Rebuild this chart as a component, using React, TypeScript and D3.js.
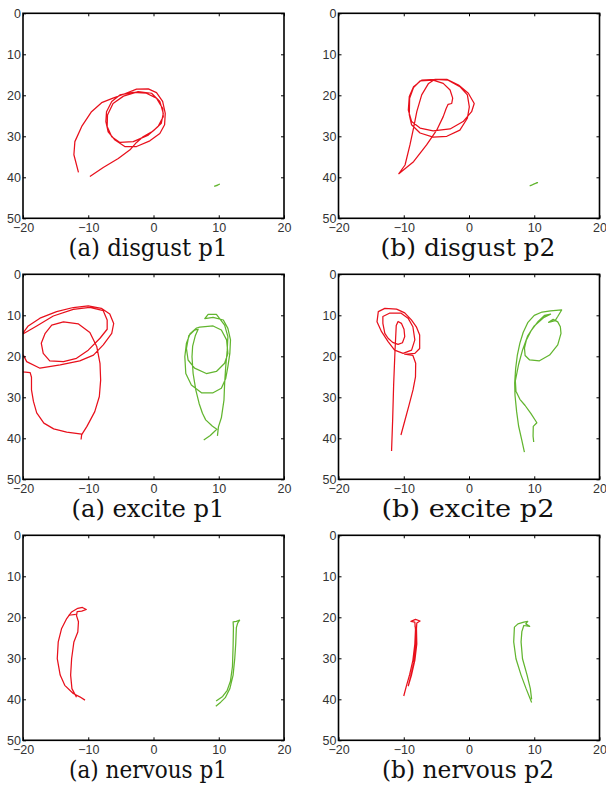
import React, { useEffect, useRef } from "react";
import * as d3 from "d3";

// axis ticks and panel captions
const xTicks = [-20, -10, 0, 10, 20];
const yTicks = [0, 10, 20, 30, 40, 50];
const captions = [
  "(a) disgust p1",
  "(b) disgust p2",
  "(a) excite p1",
  "(b) excite p2",
  "(a) nervous p1",
  "(b) nervous p2",
];

// trajectories, [x, y] in plot units (y grows downward)
const disgustP1Red = [
  [-11.5, 38.8], [-12.2, 34.5], [-12.05, 31.3], [-11.0, 27.6], [-9.5, 24.0], [-7.95, 21.8],
  [-6.2, 20.7], [-4.6, 19.75], [-2.6, 18.5], [-0.8, 18.45], [0.46, 19.35], [1.4, 21.5],
  [1.8, 24.4], [1.7, 27.2], [0.97, 29.3], [-0.56, 31.1], [-2.6, 32.5], [-4.4, 32.5],
  [-5.9, 30.9], [-6.95, 28.9], [-7.3, 26.4], [-7.2, 24.0], [-6.4, 21.5], [-5.15, 19.9],
  [-3.1, 19.3], [-1.1, 19.5], [0.46, 20.7], [1.4, 23.2], [1.5, 25.2], [0.7, 27.6],
  [-0.8, 29.7], [-3.1, 31.3], [-5.15, 31.5], [-6.4, 30.1], [-7.1, 27.6], [-7.05, 24.8],
  [-6.2, 22.0], [-4.6, 20.2], [-2.35, 19.1], [-0.3, 19.5], [0.97, 21.5], [1.5, 24.4],
  [1.2, 26.8], [-0.06, 28.7], [-1.6, 30.1], [-2.6, 31.5], [-3.6, 33.3], [-5.4, 35.4],
  [-7.7, 37.6], [-9.75, 39.8],
];
const disgustP1Green = [[9.3, 42.2], [9.7, 41.95], [10.1, 41.7], [9.8, 41.95], [9.4, 42.15]];

const disgustP2Red = [
  [-10.8, 39.2], [-9.8, 37.0], [-9.05, 32.1], [-8.5, 28.0], [-8.0, 24.0], [-7.25, 19.9],
  [-6.2, 17.1], [-5.2, 16.1], [-3.4, 16.1], [-1.6, 17.5], [-0.1, 19.5], [0.8, 22.0],
  [0.4, 24.0], [-0.9, 26.4], [-2.9, 28.2], [-5.5, 28.7], [-7.5, 28.0], [-8.8, 26.4],
  [-9.3, 23.6], [-9.15, 20.3], [-8.5, 17.9], [-7.25, 16.3], [-5.2, 16.1], [-3.2, 16.3],
  [-1.4, 17.9], [-0.25, 19.9], [0.05, 22.8], [-0.25, 25.6], [-1.4, 28.5], [-3.4, 30.0],
  [-5.5, 30.2], [-7.5, 29.2], [-8.8, 27.2], [-9.15, 24.8], [-9.1, 20.7], [-8.5, 18.1],
  [-7.5, 16.5], [-5.5, 16.3], [-3.95, 17.1], [-2.9, 18.7], [-2.5, 20.7], [-2.65, 22.0],
  [-3.2, 22.2], [-3.5, 23.2], [-3.95, 25.2], [-4.95, 28.5], [-6.5, 32.1], [-8.5, 36.2],
  [-10.8, 39.2],
];
const disgustP2Green = [[9.3, 42.1], [9.9, 41.7], [10.5, 41.3], [10.0, 41.6], [9.5, 42.0]];

const exciteP1Red = [
  [-11.1, 40.3], [-11.0, 39.0], [-13.3, 38.5], [-15.3, 37.7], [-16.8, 36.3], [-17.9, 33.8],
  [-18.4, 31.0], [-18.7, 28.2], [-18.7, 25.1], [-18.9, 24.0], [-20.0, 23.8], [-20.8, 22.5],
  [-20.4, 20.0], [-19.95, 19.7], [-19.44, 21.3], [-17.4, 22.9], [-14.3, 22.1], [-11.3, 21.1],
  [-9.2, 19.7], [-7.7, 17.2], [-6.4, 14.4], [-6.1, 12.0], [-6.7, 9.7], [-8.0, 8.3],
  [-10.0, 7.7], [-12.3, 8.1], [-14.85, 9.1], [-17.4, 10.7], [-19.2, 12.6], [-19.95, 14.2],
  [-20.6, 14.6], [-19.95, 14.5], [-17.9, 12.6], [-15.36, 10.17], [-12.3, 8.55], [-9.75, 8.06],
  [-7.7, 8.87], [-7.1, 11.15], [-7.1, 13.4], [-8.2, 15.6], [-10.0, 18.5], [-11.8, 20.5],
  [-13.8, 21.3], [-15.9, 21.1], [-16.9, 19.3], [-17.2, 16.8], [-16.6, 14.4], [-15.6, 12.4],
  [-13.8, 11.6], [-11.5, 12.1], [-9.75, 14.2], [-8.7, 17.6], [-8.2, 21.7], [-8.1, 25.8],
  [-8.3, 29.8], [-9.0, 33.5], [-10.2, 37.1], [-11.0, 39.1],
];
const exciteP1Green = [
  [9.8, 39.4], [9.95, 37.2], [10.4, 35.0], [10.8, 30.7], [10.9, 26.6], [11.07, 22.5],
  [11.3, 18.5], [11.4, 15.2], [10.9, 12.4], [9.64, 9.76], [8.37, 9.76], [7.86, 10.8],
  [9.13, 10.5], [10.7, 11.15], [11.4, 13.2], [11.8, 16.0], [11.7, 19.3], [11.4, 22.5],
  [11.07, 25.4], [10.4, 27.8], [9.13, 28.9], [7.35, 28.9], [5.8, 27.0], [4.95, 24.2],
  [4.8, 20.1], [5.05, 16.8], [5.6, 14.5], [6.6, 13.1], [7.09, 12.9], [9.13, 12.6],
  [10.4, 13.6], [11.2, 16.0], [11.4, 19.3], [10.9, 21.7], [9.64, 23.7], [8.1, 24.2],
  [6.3, 22.9], [5.3, 20.9], [5.05, 18.1], [5.4, 15.0], [6.3, 13.6], [6.84, 13.4],
  [6.4, 15.0], [6.0, 17.5], [5.9, 20.1], [6.07, 24.2], [6.48, 28.2], [6.99, 31.5],
  [7.5, 33.9], [8.0, 35.5], [9.0, 37.0], [9.7, 37.8], [8.7, 39.3], [7.7, 40.4],
];

const exciteP2Red = [
  [-11.87, 43.1], [-11.7, 35.5], [-11.55, 27.0], [-11.35, 19.0], [-11.15, 12.5], [-10.87, 11.5],
  [-10.36, 11.96], [-9.96, 13.4], [-9.85, 15.2], [-10.2, 16.7], [-10.87, 17.1], [-11.7, 16.6],
  [-12.4, 15.6], [-12.9, 14.4], [-13.2, 11.96], [-13.2, 10.3], [-12.2, 9.5], [-10.4, 9.5],
  [-9.34, 10.7], [-8.6, 12.8], [-8.3, 16.0], [-8.8, 18.5], [-10.1, 19.3], [-11.4, 18.5],
  [-12.4, 16.4], [-13.4, 14.0], [-14.1, 11.6], [-13.9, 9.1], [-12.9, 8.3], [-11.1, 8.5],
  [-9.85, 9.4], [-8.83, 11.1], [-8.07, 12.8], [-7.56, 14.8], [-7.56, 18.1], [-8.3, 19.3],
  [-9.85, 19.5], [-8.6, 19.8], [-8.17, 21.7], [-8.2, 25.0], [-8.58, 28.2], [-9.19, 31.9],
  [-9.92, 36.2], [-10.43, 39.2],
];
const exciteP2Green = [
  [8.49, 43.4], [8.1, 40.5], [7.6, 37.0], [7.3, 33.5], [7.05, 29.5], [7.0, 26.5],
  [7.15, 23.0], [7.4, 19.8], [7.8, 16.8], [8.3, 14.2], [9.0, 11.8], [10.0, 10.0],
  [11.2, 9.2], [12.5, 8.9], [14.2, 8.7], [13.6, 10.3], [13.2, 11.3], [12.2, 11.7],
  [12.9, 11.0], [13.6, 11.6], [14.0, 12.8], [14.1, 14.4], [13.6, 17.2], [12.35, 19.7],
  [10.8, 21.1], [9.3, 20.9], [8.6, 19.8], [8.5, 18.0], [8.8, 16.0], [9.5, 13.8],
  [10.6, 11.5], [11.6, 10.0], [12.5, 9.7], [11.5, 10.5], [10.0, 12.6], [9.0, 15.0],
  [8.2, 18.5], [7.6, 22.0], [7.1, 26.0], [7.2, 28.5], [7.8, 30.5], [8.6, 32.0],
  [9.5, 34.0], [10.4, 36.2], [9.85, 37.1], [9.82, 39.5], [9.92, 40.9],
];

const nervousP1Red = [
  [-10.5, 40.2], [-11.3, 39.4], [-12.3, 38.6], [-13.6, 36.6], [-14.3, 34.1], [-14.75, 30.1],
  [-14.6, 26.0], [-14.1, 22.8], [-13.3, 20.3], [-12.55, 18.7], [-11.6, 17.8], [-10.9, 17.6],
  [-10.3, 18.1], [-11.0, 18.5], [-11.7, 18.6], [-11.8, 19.6], [-11.5, 21.1], [-11.6, 23.6],
  [-12.2, 26.0], [-12.55, 30.1], [-12.7, 34.1], [-12.5, 37.4], [-11.8, 39.5],
];
const nervousP1RedHook = [[-13.0, 19.5], [-11.9, 19.3]];
const nervousP1Green = [
  [9.6, 40.4], [10.6, 39.3], [11.3, 37.8], [11.8, 35.5], [12.1, 32.0], [12.2, 27.0],
  [12.25, 22.5], [12.2, 21.1], [12.7, 21.0], [13.2, 20.7], [12.9, 21.4], [12.7, 22.5],
  [12.6, 26.5], [12.45, 30.1], [12.2, 34.1], [11.7, 37.4], [11.0, 39.6], [10.3, 40.7],
  [9.55, 41.7],
];

const nervousP2Red = [
  [-10.0, 39.2], [-9.6, 36.8], [-9.1, 34.0], [-8.6, 30.5], [-8.3, 26.5], [-8.2, 23.0],
  [-8.3, 21.2], [-8.9, 21.0], [-8.2, 20.5], [-7.5, 20.9], [-8.0, 21.4], [-8.05, 22.8],
  [-8.0, 26.5], [-8.3, 30.5], [-8.8, 34.0], [-9.3, 36.7], [-8.95, 34.5], [-8.45, 31.0],
  [-8.15, 26.5], [-8.1, 23.2], [-8.3, 22.0],
];
const nervousP2Green = [
  [9.6, 40.8], [8.75, 37.4], [7.98, 34.1], [7.2, 30.1], [6.85, 26.0], [6.96, 22.4],
  [7.5, 21.6], [8.4, 21.2], [9.0, 21.0], [8.7, 21.6], [9.3, 22.2], [8.4, 22.0],
  [8.1, 23.5], [7.98, 26.0], [8.2, 30.1], [8.9, 34.1], [9.4, 37.4], [9.6, 40.0],
];

const panels = [
  { caption: captions[0], red: [disgustP1Red], green: [disgustP1Green] },
  { caption: captions[1], red: [disgustP2Red], green: [disgustP2Green] },
  { caption: captions[2], red: [exciteP1Red], green: [exciteP1Green] },
  { caption: captions[3], red: [exciteP2Red], green: [exciteP2Green] },
  { caption: captions[4], red: [nervousP1Red, nervousP1RedHook], green: [nervousP1Green] },
  { caption: captions[5], red: [nervousP2Red], green: [nervousP2Green] },
];

// layout
const W = 606;
const H = 791;
const plotW = 261;
const plotH = 205;
const colLeft = [23, 338.5];
const rowTop = [13.3, 274.3, 535.3];
const captionX = [148, 468];
const captionWidth = [159, 175, 153, 173, 158, 172];
const RED = "#e8101c";
const GREEN = "#62b52f";

export default function App() {
  const svgRef = useRef<SVGSVGElement>(null);

  useEffect(() => {
    const svg = d3.select(svgRef.current);
    svg.selectAll("*").remove();

    const x = d3.scaleLinear().domain([-20, 20]).range([0, plotW]);
    const y = d3.scaleLinear().domain([0, 50]).range([0, plotH]);
    const line = d3
      .line<number[]>()
      .x((d) => x(d[0]))
      .y((d) => y(d[1]));

    const styleAxis = (g, labels) => {
      g.select(".domain").remove();
      g.selectAll(".tick line").attr("stroke", "#000").attr("stroke-width", 1);
      if (labels) {
        g.selectAll("text")
          .attr("fill", "#333")
          .attr("font-family", "'Liberation Sans', Arial, sans-serif")
          .attr("font-size", 12.5);
      } else {
        g.selectAll("text").remove();
      }
    };

    panels.forEach((p, i) => {
      const col = i % 2;
      const row = Math.floor(i / 2);
      const g = svg
        .append("g")
        .attr("transform", `translate(${colLeft[col]},${rowTop[row]})`);

      const clipId = `clip-${i}`;
      g.append("clipPath")
        .attr("id", clipId)
        .append("rect")
        .attr("width", plotW)
        .attr("height", plotH);

      const marks = g.append("g").attr("clip-path", `url(#${clipId})`);
      marks
        .selectAll(".red")
        .data(p.red)
        .join("path")
        .attr("class", "red")
        .attr("d", line)
        .attr("fill", "none")
        .attr("stroke", RED)
        .attr("stroke-width", 1.25)
        .attr("stroke-linejoin", "round");
      marks
        .selectAll(".green")
        .data(p.green)
        .join("path")
        .attr("class", "green")
        .attr("d", line)
        .attr("fill", "none")
        .attr("stroke", GREEN)
        .attr("stroke-width", 1.25)
        .attr("stroke-linejoin", "round");

      // axes: inward ticks on all four sides, labels left and bottom
      g.append("g")
        .call(d3.axisLeft(y).tickValues(yTicks).tickSizeInner(-3).tickSizeOuter(0).tickPadding(2))
        .call((a) => styleAxis(a, true));
      g.append("g")
        .attr("transform", `translate(${plotW},0)`)
        .call(d3.axisRight(y).tickValues(yTicks).tickSizeInner(-3).tickSizeOuter(0))
        .call((a) => styleAxis(a, false));
      g.append("g")
        .attr("transform", `translate(0,${plotH})`)
        .call(
          d3
            .axisBottom(x)
            .tickValues(xTicks)
            .tickSizeInner(-3)
            .tickSizeOuter(0)
            .tickPadding(5)
            .tickFormat((d) => String(d).replace("-", "\u2212"))
        )
        .call((a) => styleAxis(a, true));
      g.append("g")
        .call(d3.axisTop(x).tickValues(xTicks).tickSizeInner(-3).tickSizeOuter(0))
        .call((a) => styleAxis(a, false));

      g.append("rect")
        .attr("width", plotW)
        .attr("height", plotH)
        .attr("fill", "none")
        .attr("stroke", "#000")
        .attr("stroke-width", 1.6);

      svg
        .append("text")
        .attr("x", captionX[col])
        .attr("y", rowTop[row] + 242.5)
        .attr("text-anchor", "middle")
        .attr("font-family", "'DejaVu Serif', serif")
        .attr("font-size", 25)
        .attr("textLength", captionWidth[i])
        .attr("lengthAdjust", "spacingAndGlyphs")
        .attr("fill", "#111")
        .text(p.caption);
    });
  }, []);

  return (
    <svg
      ref={svgRef}
      width={W}
      height={H}
      style={{ position: "absolute", left: 0, top: 0, background: "#fff" }}
    />
  );
}
